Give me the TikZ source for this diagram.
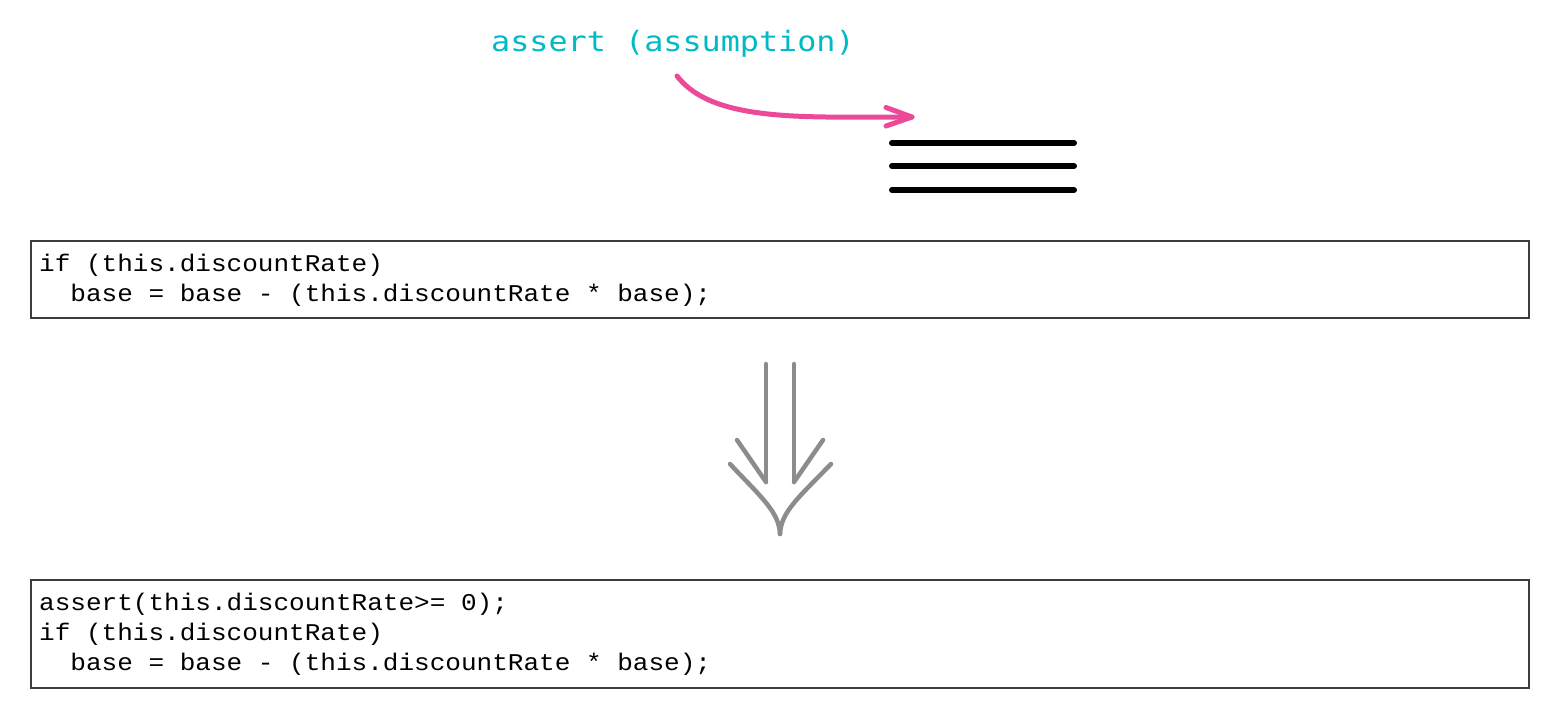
\documentclass[tikz,border=0pt]{standalone}
\usepackage{fontspec}
\newfontfamily\codefont{Liberation Mono}[FakeStretch=1.085]
\newfontfamily\notefont{DejaVu Sans Mono}[FakeStretch=1.135]
\definecolor{notecyan}{RGB}{0,186,198}
\definecolor{arrowpink}{RGB}{236,74,152}
\definecolor{arrowgray}{RGB}{140,140,140}
\definecolor{boxline}{RGB}{60,60,60}
\tikzset{
  codebox/.style={draw=boxline, line width=1.2pt, fill=white, inner sep=0pt},
  codeline/.style={anchor=base west, inner sep=0pt, font=\codefont\fontsize{24}{30}\selectfont, text=black},
  notetext/.style={anchor=base west, inner sep=0pt, font=\notefont\fontsize{28}{30}\selectfont, text=notecyan},
  pinkarrow/.style={draw=arrowpink, line width=5pt, line cap=round, line join=round},
  barline/.style={draw=black, line width=6pt, line cap=round},
  grayarrow/.style={draw=arrowgray, line width=4.5pt, line cap=round, line join=round}
}
\begin{document}
\begin{tikzpicture}[x=1pt,y=-1pt]
\useasboundingbox (0,0) rectangle (1552,712);
\fill[white] (0,0) rectangle (1552,712);

% note text
\node[notetext] (note) at (491,51) {assert (assumption)};

% pink arrow
\coordinate (pstart) at (677,76);
\coordinate (ptip) at (912,117);
\draw[pinkarrow] (pstart) .. controls (705,112) and (765,118) .. (860,117) -- (ptip);
\draw[pinkarrow] (886,107.5) -- (ptip) -- (886,126);

% three bars
\foreach \yy/\nm in {143/a,166/b,190/c}{
  \coordinate (bar\nm l) at (892,\yy);
  \coordinate (bar\nm r) at (1074,\yy);
  \draw[barline] (bar\nm l) -- (bar\nm r);
}

% code box 1
\node[codebox, minimum width=1498pt, minimum height=77pt] (box1) at (780,279.5) {};
\node[codeline] (b1l1) at (39,271) {if (this.discountRate)};
\node[codeline] (b1l2) at (39,301) {\ \ base = base - (this.discountRate * base);};

% gray arrow
\coordinate (gl1) at (766,364);
\coordinate (gl2) at (766,482);
\coordinate (gr1) at (794,364);
\coordinate (gr2) at (794,482);
\coordinate (gtip) at (780,534);
\draw[grayarrow] (gl1) -- (gl2);
\draw[grayarrow] (gr1) -- (gr2);
\draw[grayarrow] (737,440) -- (gl2);
\draw[grayarrow] (823,440) -- (gr2);
\draw[grayarrow] (730,464) .. controls (762,498) and (779,512) .. (gtip);
\draw[grayarrow] (831,464) .. controls (798,498) and (781,512) .. (gtip);

% code box 2
\node[codebox, minimum width=1498pt, minimum height=108pt] (box2) at (780,634) {};
\node[codeline] (b2l1) at (39,610.5) {assert(this.discountRate>= 0);};
\node[codeline] (b2l2) at (39,640.5) {if (this.discountRate)};
\node[codeline] (b2l3) at (39,670.5) {\ \ base = base - (this.discountRate * base);};
\end{tikzpicture}
\end{document}
